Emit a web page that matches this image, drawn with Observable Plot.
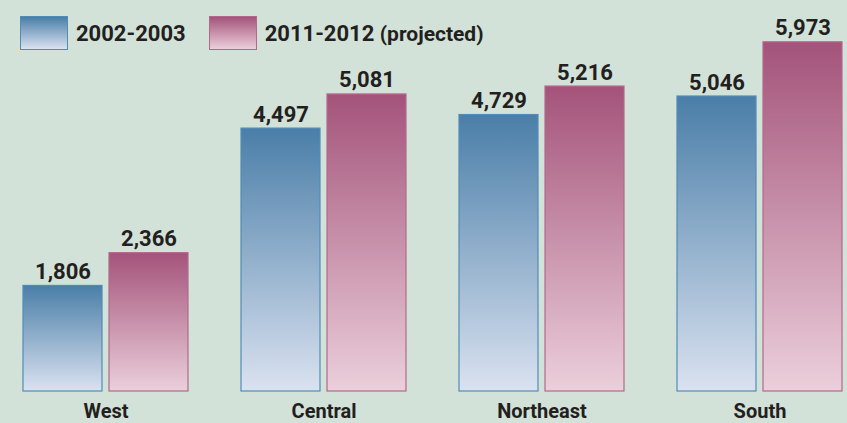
<!DOCTYPE html>
<html>
<head>
<meta charset="utf-8">
<script src="https://cdn.jsdelivr.net/npm/d3@7"></script>
<script src="https://cdn.jsdelivr.net/npm/@observablehq/plot@0.6"></script>
<style>
  html, body { margin: 0; padding: 0; background: #d3e2d8; }
  #wrap { position: relative; width: 847px; height: 423px; overflow: hidden; font-family: Roboto, "Liberation Sans", sans-serif; }
  #legend { position: absolute; left: 20px; top: 16px; display: flex; align-items: center; font-weight: bold; font-size: 22px; color: #231f20; z-index: 2; }
  .sw { width: 46px; height: 32px; border: 1px solid; margin-right: 8px; }
  .item { display: flex; align-items: center; margin-right: 23px; }
</style>
</head>
<body>
<div id="wrap">
  <div id="legend"></div>
  <div id="chart"></div>
</div>
<script>
const regions = ["West", "Central", "Northeast", "South"];
const seriesNames = ["2002-2003", "2011-2012 (projected)"];
const values2002 = [1806, 4497, 4729, 5046];
const values2011 = [2366, 5081, 5216, 5973];

const colors = {
  "2002-2003": {top: "#4a7ea8", bottom: "#dae2f0", stroke: "#4f8cba", id: "gBlue"},
  "2011-2012 (projected)": {top: "#a4537a", bottom: "#ebcfdb", stroke: "#b2688b", id: "gPink"}
};

const data = [];
regions.forEach((r, i) => {
  data.push({region: r, series: seriesNames[0], value: values2002[i]});
  data.push({region: r, series: seriesNames[1], value: values2011[i]});
});

const fmt = d3.format(",");

const chart = Plot.plot({
  width: 847,
  height: 423,
  marginLeft: 21,
  marginRight: 4,
  marginTop: 11,
  marginBottom: 32,
  style: {background: "transparent", fontFamily: "Roboto, 'Liberation Sans', sans-serif"},
  fx: {domain: regions, paddingInner: 0.235, paddingOuter: 0, label: null},
  x: {domain: seriesNames, paddingInner: 0.08, paddingOuter: 0, axis: null},
  y: {domain: [0, 6500], axis: null},
  marks: [
    Plot.barY(data, {
      fx: "region", x: "series", y: "value",
      fill: d => `url(#${colors[d.series].id})`,
      stroke: d => colors[d.series].stroke,
      strokeWidth: 1.2
    }),
    Plot.text(data, {
      fx: "region", x: "series", y: "value",
      text: d => fmt(d.value),
      lineAnchor: "bottom", dy: -7,
      fontSize: 22, fontWeight: "bold", fill: "#231f20"
    }),
    Plot.axisFx({anchor: "bottom", tickSize: 0, tickPadding: 12, fontSize: 20, fontWeight: "bold", color: "#231f20", label: null})
  ]
});

// gradient defs
const svg = d3.select(chart);
const defs = svg.insert("defs", ":first-child");
Object.values(colors).forEach(c => {
  const g = defs.append("linearGradient").attr("id", c.id).attr("x1", 0).attr("y1", 0).attr("x2", 0).attr("y2", 1);
  g.append("stop").attr("offset", "0%").attr("stop-color", c.top);
  g.append("stop").attr("offset", "100%").attr("stop-color", c.bottom);
});

document.getElementById("chart").appendChild(chart);

// legend
const legend = d3.select("#legend");
seriesNames.forEach(s => {
  const c = colors[s];
  const it = legend.append("div").attr("class", "item");
  it.append("div").attr("class", "sw")
    .style("border-color", c.stroke)
    .style("background", `linear-gradient(to bottom, ${c.top}, ${c.bottom})`);
  const label = it.append("span");
  if (s.includes("(")) {
    const [a, b] = s.split(" (");
    label.append("span").text(a + " ");
    label.append("span").style("font-size", "21px").text("(" + b);
  } else {
    label.text(s);
  }
});
</script>
</body>
</html>
